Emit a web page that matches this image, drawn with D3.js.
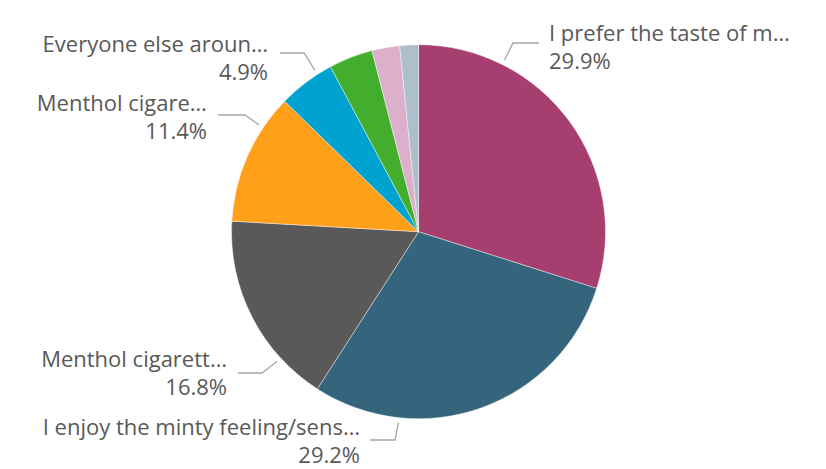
<!DOCTYPE html>
<html>
<head>
<meta charset="utf-8">
<script src="https://cdn.jsdelivr.net/npm/d3@7/dist/d3.min.js"></script>
<style>
  html, body { margin: 0; padding: 0; background: #fff; }
  svg { display: block; }
  text { font-family: "Open Sans", Lato, sans-serif; fill: #595959; }
</style>
</head>
<body>
<svg id="chart" width="826" height="469"></svg>
<script>
// Data (clockwise from 12 o'clock)
const categories = [
  "I prefer the taste of m…",
  "I enjoy the minty feeling/sens…",
  "Menthol cigarett…",
  "Menthol cigare…",
  "Everyone else aroun…",
  "Other A",
  "Other B",
  "Other C"
];
const values = [29.9, 29.2, 16.8, 11.4, 4.9, 3.8, 2.4, 1.6];
const showLabel = [true, true, true, true, true, false, false, false];
const colors = ["#A73E70", "#35657D", "#595959", "#FF9F1A", "#00A3D0", "#43AE2E", "#DCB0CA", "#ADBFCA"];

// Label layout: leader start angle (deg clockwise from top), elbow, line end, text anchor
const labelLayout = [
  { ang: 26.6,  elbow: [513, 43],  end: [539, 43],  tx: 549, ty: 41,  anchor: "start" },
  { ang: 186.0, elbow: [395, 440], end: [370, 440], tx: 360, ty: 435, anchor: "end" },
  { ang: 227.5, elbow: [262, 373], end: [238, 373], tx: 227, ty: 367, anchor: "end" },
  { ang: 303.8, elbow: [245, 115], end: [218, 115], tx: 207, ty: 111, anchor: "end" },
  { ang: 327.3, elbow: [304, 53],  end: [280, 53],  tx: 268, ty: 52,  anchor: "end" }
];

const cx = 418.5, cy = 231.7, R = 187;
const svg = d3.select("#chart");
const g = svg.append("g").attr("transform", `translate(${cx},${cy})`);

const pie = d3.pie().sort(null).value(d => d.v).startAngle(0).endAngle(2 * Math.PI);
const arcs = pie(values.map((v, i) => ({ v, i })));
const arc = d3.arc().innerRadius(0).outerRadius(R);

g.selectAll("path.slice")
  .data(arcs)
  .join("path")
  .attr("class", "slice")
  .attr("d", arc)
  .attr("fill", d => colors[d.data.i])
  .attr("stroke", "#ffffff")
  .attr("stroke-width", 0.6)
  .attr("stroke-opacity", 0.7);

// Labels
const fmt = d3.format(".1f");
const labelled = arcs.filter(d => showLabel[d.data.i]);
const lg = svg.append("g");
labelled.forEach((d, k) => {
  const L = labelLayout[k];
  const a = L.ang * Math.PI / 180;
  const sx = cx + (R + 5) * Math.sin(a);
  const sy = cy - (R + 5) * Math.cos(a);
  lg.append("polyline")
    .attr("points", [[sx, sy], L.elbow, L.end].map(p => p.join(",")).join(" "))
    .attr("fill", "none")
    .attr("stroke", "#A6A6A6")
    .attr("stroke-width", 1.3);
  const t = lg.append("text")
    .attr("x", L.tx)
    .attr("y", L.ty)
    .attr("text-anchor", L.anchor)
    .attr("font-size", 22);
  t.append("tspan").attr("x", L.tx).text(categories[d.data.i]);
  t.append("tspan").attr("x", L.tx).attr("dy", 28).text(fmt(d.data.v) + "%");
});
</script>
</body>
</html>
